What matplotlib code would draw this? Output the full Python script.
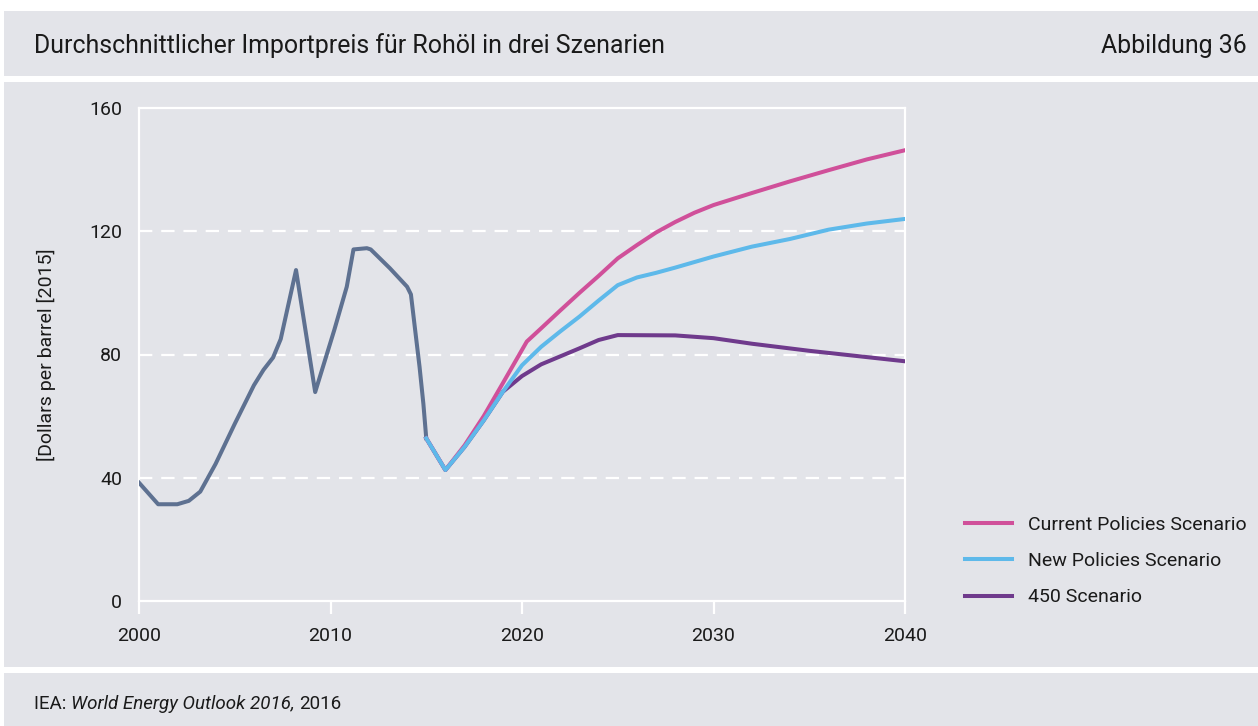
import matplotlib.pyplot as plt
from matplotlib.patches import Rectangle

# Historischer Importpreis (Dollar je Barrel, Preise 2015)
hist_years = [2000, 2001, 2002, 2002.6, 2003.2, 2004, 2005, 2006, 2006.5, 2007,
              2007.4, 2008.2, 2009.2, 2010.2, 2010.85, 2011.2, 2011.9, 2012.1,
              2013.1, 2014.0, 2014.2, 2014.4, 2014.65, 2014.85, 2015]
hist_price = [38.4, 31.4, 31.4, 32.5, 35.5, 44.5, 57.5, 70, 75, 79,
              85, 107.4, 67.8, 88, 102, 114.1, 114.5, 114.1,
              108, 102, 99.5, 89, 76, 64, 52.8]

# Szenarien ab 2015
cps_years = [2015, 2016, 2017, 2018, 2019, 2020.25, 2021, 2022, 2023, 2024, 2025,
             2026, 2027, 2028, 2029, 2030, 2032, 2034, 2036, 2038, 2040]
cps_price = [52.8, 42.5, 50.5, 60, 70.7, 84.2, 88.5, 94.3, 100, 105.5, 111.2,
             115.5, 119.6, 123, 126, 128.5, 132.4, 136.2, 139.8, 143.3, 146.3]

nps_years = [2015, 2016, 2017, 2018, 2019, 2020, 2021, 2022, 2023, 2024, 2025,
             2026, 2027, 2028, 2030, 2032, 2034, 2036, 2038, 2040]
nps_price = [52.8, 42.5, 50, 58.6, 67.9, 76.5, 82.5, 87.5, 92.3, 97.5, 102.5,
             105, 106.5, 108.2, 111.8, 115, 117.5, 120.5, 122.5, 124]

s450_years = [2015, 2016, 2017, 2018, 2019, 2020, 2021, 2022, 2023, 2024, 2025,
              2028, 2030, 2032, 2035, 2040]
s450_price = [52.8, 42.5, 50, 58.6, 67.9, 73, 76.8, 79.4, 82, 84.7, 86.3,
              86.2, 85.3, 83.5, 81.2, 77.8]

xticks = [2000, 2010, 2020, 2030, 2040]
yticks = [0, 40, 80, 120, 160]

BG = "#e3e4e9"
C_HIST = "#5e7191"
C_CPS = "#d0509a"
C_NPS = "#5eb9ea"
C_450 = "#6f3a8c"
TXT = "#1a1a1a"
FONT = ["Roboto", "DejaVu Sans"]

W, H = 1258, 726
fig = plt.figure(figsize=(W / 100, H / 100), dpi=100, facecolor="white")


def band(top_px, bottom_px, left_px=4):
    fig.patches.append(Rectangle((left_px / W, 1 - bottom_px / H),
                                 1 - left_px / W, (bottom_px - top_px) / H,
                                 transform=fig.transFigure, facecolor=BG,
                                 edgecolor="none", zorder=-5))


band(11, 76)
band(82, 667)
band(673, 726)

fig.text(34 / W, 1 - 46 / H, "Durchschnittlicher Importpreis für Rohöl in drei Szenarien",
         family=FONT, fontsize=17.9, color=TXT, va="center", ha="left")
fig.text(1247 / W, 1 - 46 / H, "Abbildung 36",
         family=FONT, fontsize=17.9, color=TXT, va="center", ha="right")

# Quelle mit kursivem Titel
FS_SRC = 13.5
src = fig.text(34 / W, 1 - 704 / H, "IEA: ", family=FONT, fontsize=FS_SRC,
               color=TXT, va="center", ha="left")
fig.canvas.draw()
r = fig.canvas.get_renderer()
x = src.get_window_extent(r).x1
t2 = fig.text(x / W, 1 - 704 / H, "World Energy Outlook 2016,", family=FONT,
              style="italic", fontsize=FS_SRC, color=TXT, va="center", ha="left")
x = t2.get_window_extent(r).x1
fig.text((x + 5) / W, 1 - 704 / H, "2016", family=FONT, fontsize=FS_SRC,
         color=TXT, va="center", ha="left")

ax = fig.add_axes([139 / W, 1 - 601 / H, (905 - 139) / W, (601 - 108) / H])
ax.set_zorder(2)
ax.patch.set_visible(False)

ax.plot(hist_years, hist_price, color=C_HIST, lw=2.9, zorder=3)
ax.plot(s450_years, s450_price, color=C_450, lw=2.9, label="450 Scenario", zorder=3)
ax.plot(cps_years, cps_price, color=C_CPS, lw=2.9, label="Current Policies Scenario", zorder=4)
ax.plot(nps_years, nps_price, color=C_NPS, lw=2.9, label="New Policies Scenario", zorder=5)

ax.set_xlim(2000, 2040)
ax.set_ylim(0, 160)
ax.set_xticks(xticks)
ax.set_yticks(yticks)
for s in ax.spines.values():
    s.set_color("white")
    s.set_linewidth(1.6)
for yv in yticks[1:-1]:
    ax.axhline(yv, color="white", lw=1.6, dashes=(6, 4), zorder=1)
ax.tick_params(axis="x", direction="out", length=9, width=1.6, color="white",
               labelsize=14, labelcolor=TXT, pad=10)
ax.tick_params(axis="y", length=0, labelsize=14, labelcolor=TXT, pad=12)
for lab in ax.get_xticklabels() + ax.get_yticklabels():
    lab.set_family(FONT)

ax.set_ylabel("[Dollars per barrel [2015]", family=FONT, fontsize=14,
              color=TXT, labelpad=24)

handles, labels = ax.get_legend_handles_labels()
order = [1, 2, 0]
leg = fig.legend([handles[i] for i in order], [labels[i] for i in order],
                 loc="center left", bbox_to_anchor=(965 / W, 1 - 561 / H),
                 frameon=False, prop={"family": FONT, "size": 14},
                 handlelength=2.4, handletextpad=0.85, labelspacing=0.95,
                 borderaxespad=0, borderpad=0)
for t in leg.get_texts():
    t.set_color(TXT)

fig.savefig("out.png", dpi=100, facecolor="white")
